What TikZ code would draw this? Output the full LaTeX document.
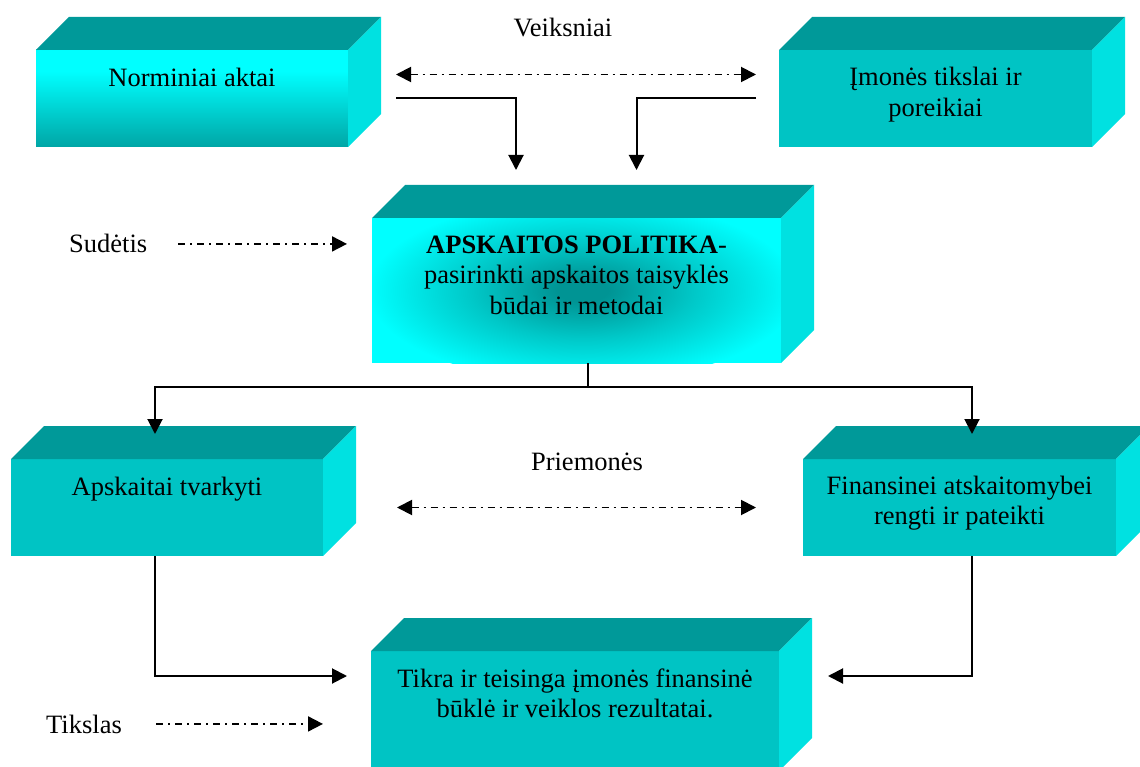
\documentclass[tikz,border=0pt]{standalone}
\usepackage{fontspec}
\setmainfont{Liberation Serif}
\usetikzlibrary{arrows.meta,calc}

\definecolor{topteal}{RGB}{0,153,153}
\definecolor{sideteal}{RGB}{0,225,225}
\definecolor{frontteal}{RGB}{0,196,196}
\definecolor{brightcyan}{RGB}{0,255,255}
\definecolor{fadeteal}{RGB}{0,165,165}
\definecolor{glowteal}{RGB}{0,148,148}
\definecolor{glowmid}{RGB}{0,200,200}

% front face fading from bright cyan (top) to teal (bottom)
\pgfdeclareverticalshading{frontfade}{100bp}{color(0bp)=(fadeteal); color(25bp)=(fadeteal); color(64bp)=(brightcyan); color(100bp)=(brightcyan)}
% dark glow spreading from the middle of the central block
\pgfdeclareradialshading{centreglow}{\pgfpoint{0bp}{0bp}}{color(0bp)=(glowteal); color(3bp)=(glowteal); color(13bp)=(glowmid); color(25bp)=(brightcyan); color(50bp)=(brightcyan)}

\tikzset{
  front/.style={anchor=north west, inner sep=0pt, outer sep=0pt, draw=none},
  lbl/.style={font=\fontsize{26.5}{30.5}\selectfont, inner sep=0pt, align=center},
  conn/.style={line width=2pt, -{Triangle[length=15pt,width=15pt]}},
  plain/.style={line width=2pt},
  dashdot/.style={line width=1.9pt, dash pattern=on 7pt off 5pt on 2pt off 5pt},
  hd/.style={dashdot, -{Triangle[length=15pt,width=15pt]}},
  both/.style={dashdot, {Triangle[length=15pt,width=15pt]}-{Triangle[length=15pt,width=15pt]}},
}

% top and right faces of a block, built on its front node
\newcommand\slabfaces[1]{%
  \fill[topteal] (#1.north west) -- ++(33,-33) -- ([shift={(33,-33)}]#1.north east) -- (#1.north east) -- cycle;
  \fill[sideteal] (#1.north east) -- ++(33,-33) -- ([shift={(33,-33)}]#1.south east) -- (#1.south east) -- cycle;}

\begin{document}
\begin{tikzpicture}[x=1pt,y=-1pt]
\useasboundingbox (0,0) rectangle (1140,767);
\clip (0,0) rectangle (1140,767);

% blocks
\node[front, minimum width=312pt, minimum height=97pt, shade, shading=frontfade] (norm) at (36,50) {};
\node[front, minimum width=313pt, minimum height=97pt, fill=frontteal] (imon) at (779,50) {};
\node[front, minimum width=409pt, minimum height=145pt, fill=brightcyan] (pol) at (372,218) {};
\begin{scope}
  \clip (pol.north west) rectangle (pol.south east);
  \shade[shading=centreglow] ([xshift=6pt]pol.center) ellipse [x radius=215, y radius=92];
\end{scope}
\node[front, minimum width=312pt, minimum height=97pt, fill=frontteal] (apsk) at (11,459) {};
\node[front, minimum width=313pt, minimum height=97pt, fill=frontteal] (fin) at (803,459) {};
\node[front, minimum width=408pt, minimum height=120pt, fill=frontteal] (tikra) at (371,651) {};
\slabfaces{norm}
\slabfaces{imon}
\slabfaces{pol}
\slabfaces{apsk}
\slabfaces{fin}
\slabfaces{tikra}

% block texts (base anchor sits on the last line)
\node[lbl, anchor=base] (normtxt) at ([yshift=-37pt]norm.north) {Norminiai aktai};
\node[lbl, anchor=base] (imontxt) at ([yshift=-66.5pt]imon.north) {Įmonės tikslai ir\\poreikiai};
\node[lbl, anchor=base] (poltxt) at ([yshift=-96pt]pol.north) {\textbf{APSKAITOS POLITIKA}-\\pasirinkti apskaitos taisyklės\\būdai ir metodai};
\node[lbl, anchor=base] (apsktxt) at ([yshift=-36pt]apsk.north) {Apskaitai tvarkyti};
\node[lbl, anchor=base] (fintxt) at ([yshift=-65.5pt]fin.north) {Finansinei atskaitomybei\\rengti ir pateikti};
\node[lbl, anchor=base] (tikratxt) at ([yshift=-66.5pt]tikra.north) {Tikra ir teisinga įmonės finansinė\\būklė ir veiklos rezultatai.};

% side labels
\node[lbl] (veik) at (563,28) {Veiksniai};
\node[lbl] (priem) at (587,462) {Priemonės};
\node[lbl, anchor=base west] (sud) at (69,253) {Sudėtis};
\node[lbl, anchor=base west] (tiks) at (46,733) {Tikslas};

% connectors
\draw[conn] ([xshift=48pt]norm.east) -| ([xshift=-60.5pt,yshift=48pt]pol.north);
\draw[conn] ([xshift=-23pt]imon.west) -| ([xshift=60pt,yshift=48pt]pol.north);
\draw[both] ([xshift=48pt,yshift=24pt]norm.east) -- ([xshift=-23pt,yshift=24pt]imon.west);

\coordinate (split) at ([xshift=11pt,yshift=-24pt]pol.south);
\draw[plain] ([xshift=11pt]pol.south) -- (split);
\draw[conn] (split) -| ([xshift=-12pt,yshift=25pt]apsk.north);
\draw[conn] (split) -| ([xshift=12.5pt,yshift=25pt]fin.north);

\draw[both] ([xshift=74pt]apsk.east) -- ([xshift=-47pt]fin.west);

\draw[conn] ([xshift=-12pt]apsk.south) |- ([xshift=-24pt,yshift=-25pt]tikra.north west);
\draw[conn] ([xshift=12.5pt]fin.south) |- ([xshift=49pt,yshift=-25pt]tikra.north east);

\draw[hd] ([xshift=31pt]sud.east) -- ($(pol.west |- sud.east)+(-25,0)$);
\draw[hd] ([xshift=34pt]tiks.east) -- ($(tikra.west |- tiks.east)+(-48,0)$);
\end{tikzpicture}
\end{document}
